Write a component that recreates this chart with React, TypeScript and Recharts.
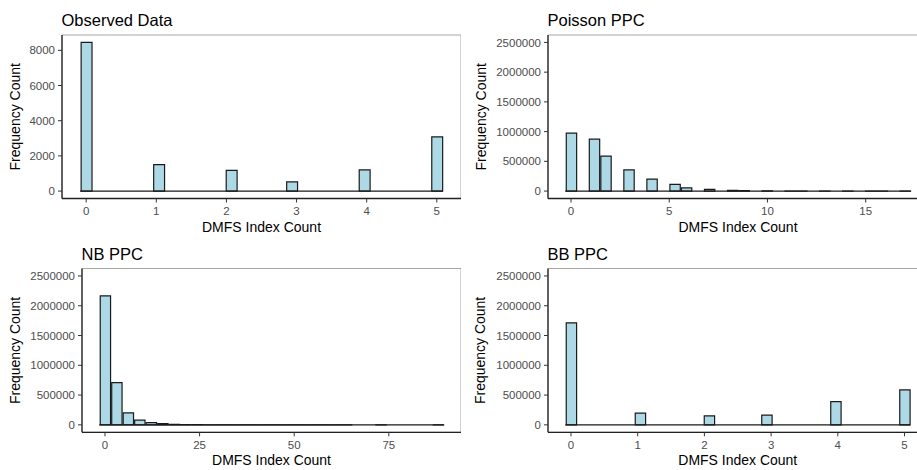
import { BarChart, Bar, XAxis, YAxis, ReferenceLine, ReferenceArea, Label } from "recharts";

// histogram bins (30 per panel, ggplot-style: centred from min to max)
const observedRange = [0, 5];
const observedCounts = [
  8450, 0, 0, 0, 0, 0, 1500, 0, 0, 0, 0, 0, 1180, 0, 0, 0, 0, 520, 0, 0, 0, 0, 0, 1200, 0, 0, 0, 0, 0,
  3080,
];

const poissonRange = [0, 17];
const poissonCounts = [
  973000, 0, 872000, 587000, 0, 355000, 0, 201000, 0, 114000, 55000, 0, 30000, 0, 13000, 6000, 0, 2500,
  0, 1000, 400, 0, 150, 0, 60, 0, 20, 8, 0, 3,
];

const nbRange = [0, 88];
const nbCounts = [
  2165000, 708000, 200000, 78000, 39000, 20000, 10000, 5000, 2600, 1300, 700, 350, 180, 90, 50, 25, 12,
  6, 3, 2, 1, 1, 0, 0, 1, 0, 0, 0, 0, 1,
];

const bbRange = [0, 5];
const bbCounts = [
  1713000, 0, 0, 0, 0, 0, 196000, 0, 0, 0, 0, 0, 151000, 0, 0, 0, 0, 162000, 0, 0, 0, 0, 0, 390000, 0,
  0, 0, 0, 0, 586000,
];

const observedYTicks = [0, 2000, 4000, 6000, 8000];
const ppcYTicks = [0, 500000, 1000000, 1500000, 2000000, 2500000];
const ppcYLimit = 2500000;
const unitXTicks = [0, 1, 2, 3, 4, 5];
const poissonXTicks = [0, 5, 10, 15];
const nbXTicks = [0, 25, 50, 75];

const FONT = "'Liberation Sans', Arial, Helvetica, sans-serif";
const FILL = "#ADD8E6";
const OUTLINE = "#1a1a1a";
const BORDER = "#a6a6a6";

function toBins(range: number[], counts: number[]) {
  const width = (range[1] - range[0]) / (counts.length - 1);
  return { width, rows: counts.map((count, i) => ({ x: range[0] + i * width, count })) };
}

// ggplot default 5% expansion
function expand(lo: number, hi: number): [number, number] {
  const pad = (hi - lo) * 0.05;
  return [lo - pad, hi + pad];
}

type PanelProps = {
  title: string;
  range: number[];
  counts: number[];
  xTicks: number[];
  yTicks: number[];
  yLimit?: number;
  left: number;
  top: number;
  axisWidth: number;
  plotWidth: number;
  plotTop: number;
  plotHeight: number;
  yTitleX: number;
};

function HistPanel(p: PanelProps) {
  const { width: binWidth, rows } = toBins(p.range, p.counts);
  const xDomain = expand(p.range[0] - binWidth / 2, p.range[1] + binWidth / 2);
  const yDomain = expand(0, p.yLimit ?? Math.max(...p.counts));
  const barSize = (p.plotWidth * binWidth) / (xDomain[1] - xDomain[0]);
  const xAxisHeight = 38;
  const plotBottom = p.plotTop + p.plotHeight;
  const cy = p.plotTop + p.plotHeight / 2;

  return (
    <div style={{ position: "absolute", left: p.left, top: p.top }}>
      <div
        style={{
          position: "absolute",
          left: p.axisWidth - 0.5,
          top: p.plotTop - 8.6 - 14,
          fontSize: 16.5,
          lineHeight: 1,
          color: "#000",
          whiteSpace: "nowrap",
        }}
      >
        {p.title}
      </div>
      <BarChart
        width={p.axisWidth + p.plotWidth}
        height={plotBottom + xAxisHeight}
        data={rows}
        margin={{ top: p.plotTop, right: 0, bottom: 0, left: 0 }}
        barCategoryGap={0}
        barGap={0}
      >
        <ReferenceArea
          x1={xDomain[0]}
          x2={xDomain[1]}
          y1={yDomain[0]}
          y2={yDomain[1]}
          fill="none"
          stroke={BORDER}
          strokeWidth={1}
        />
        <XAxis
          type="number"
          dataKey="x"
          domain={xDomain}
          ticks={p.xTicks}
          interval={0}
          allowDataOverflow
          height={xAxisHeight}
          tickSize={4}
          tickMargin={4.5}
          tick={{ fill: "#4d4d4d", fontSize: 11.5, fontFamily: FONT }}
          tickLine={{ stroke: "#333" }}
          axisLine={{ stroke: "#222", strokeWidth: 1.3 }}
        >
          <Label
            content={() => (
              <text
                x={p.axisWidth + p.plotWidth / 2}
                y={plotBottom + 33.1}
                textAnchor="middle"
                fontSize={14}
                fontFamily={FONT}
                fill="#000"
              >
                DMFS Index Count
              </text>
            )}
          />
        </XAxis>
        <YAxis
          type="number"
          domain={yDomain}
          ticks={p.yTicks}
          interval={0}
          allowDataOverflow
          width={p.axisWidth}
          tickSize={4}
          tickMargin={3}
          tick={{ fill: "#4d4d4d", fontSize: 11.5, fontFamily: FONT }}
          tickLine={{ stroke: "#333" }}
          axisLine={{ stroke: "#222", strokeWidth: 1.3 }}
        >
          <Label
            content={() => (
              <text
                x={p.yTitleX}
                y={cy}
                transform={`rotate(-90 ${p.yTitleX} ${cy})`}
                textAnchor="middle"
                fontSize={14}
                fontFamily={FONT}
                fill="#000"
              >
                Frequency Count
              </text>
            )}
          />
        </YAxis>
        <Bar
          dataKey="count"
          fill={FILL}
          stroke={OUTLINE}
          strokeWidth={1.2}
          barSize={barSize}
          isAnimationActive={false}
        />
        <ReferenceLine
          segment={[
            { x: p.range[0] - binWidth / 2, y: 0 },
            { x: p.range[1] + binWidth / 2, y: 0 },
          ]}
          stroke={OUTLINE}
          strokeWidth={1.2}
          ifOverflow="visible"
        />
      </BarChart>
    </div>
  );
}

export default function App() {
  return (
    <div
      style={{
        position: "absolute",
        left: 0,
        top: 0,
        width: 917,
        height: 470,
        overflow: "hidden",
        background: "#fff",
        fontFamily: FONT,
      }}
    >
      <HistPanel
        title="Observed Data"
        range={observedRange}
        counts={observedCounts}
        xTicks={unitXTicks}
        yTicks={observedYTicks}
        left={0}
        top={0}
        axisWidth={62}
        plotWidth={399}
        plotTop={35}
        plotHeight={163.5}
        yTitleX={20}
      />
      <HistPanel
        title="Poisson PPC"
        range={poissonRange}
        counts={poissonCounts}
        xTicks={poissonXTicks}
        yTicks={ppcYTicks}
        yLimit={ppcYLimit}
        left={458}
        top={0}
        axisWidth={90}
        plotWidth={380}
        plotTop={35}
        plotHeight={163.5}
        yTitleX={27.5}
      />
      <HistPanel
        title="NB PPC"
        range={nbRange}
        counts={nbCounts}
        xTicks={nbXTicks}
        yTicks={ppcYTicks}
        yLimit={ppcYLimit}
        left={0}
        top={235}
        axisWidth={82}
        plotWidth={379}
        plotTop={33.5}
        plotHeight={163.8}
        yTitleX={20}
      />
      <HistPanel
        title="BB PPC"
        range={bbRange}
        counts={bbCounts}
        xTicks={unitXTicks}
        yTicks={ppcYTicks}
        yLimit={ppcYLimit}
        left={458}
        top={235}
        axisWidth={90}
        plotWidth={379.5}
        plotTop={33.5}
        plotHeight={163.8}
        yTitleX={27.5}
      />
    </div>
  );
}
